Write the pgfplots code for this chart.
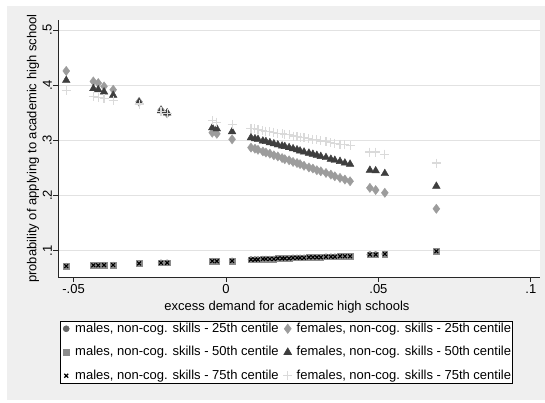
\documentclass[border=0pt]{standalone}
\usepackage{pgfplots}
\usepackage{pgfplotstable}
\pgfplotsset{compat=1.18}
\usepackage{fontspec}
\setmainfont{Liberation Sans}
\definecolor{bggray}{HTML}{EFEFEF}
\definecolor{gridgray}{HTML}{E2E2E2}
\definecolor{cM25}{HTML}{666666}
\definecolor{cM50}{HTML}{8C8C8C}
\definecolor{cF25}{HTML}{9C9C9C}
\definecolor{cF50}{HTML}{3E3E3E}
\definecolor{cF75}{HTML}{DADADA}

\pgfplotstableread{
x       m      d      t      p
-0.0524 0.072  0.426  0.409  0.390
-0.0435 0.0735 0.407  0.394  0.379
-0.0419 0.0735 0.404  0.392  0.378
-0.0400 0.074  0.398  0.388  0.376
-0.0370 0.074  0.392  0.382  0.373
-0.0285 0.077  0.370  0.369  0.366
-0.0213 0.078  0.355  0.354  0.352
-0.0193 0.078  0.349  0.350  0.349
-0.0045 0.081  0.314  0.323  0.336
-0.0030 0.081  0.312  0.321  0.333
0.0020  0.0815 0.302  0.316  0.329
0.0082  0.084  0.287  0.305  0.322
0.0095  0.084  0.285  0.303  0.321
0.0105  0.084  0.283  0.302  0.320
0.0121  0.085  0.280  0.299  0.318
0.0131  0.085  0.278  0.298  0.317
0.0144  0.085  0.276  0.296  0.316
0.0157  0.085  0.273  0.294  0.315
0.0170  0.086  0.271  0.292  0.313
0.0184  0.086  0.268  0.290  0.312
0.0193  0.086  0.266  0.289  0.311
0.0207  0.086  0.264  0.287  0.310
0.0220  0.087  0.261  0.285  0.308
0.0233  0.087  0.259  0.283  0.307
0.0243  0.087  0.257  0.281  0.306
0.0256  0.087  0.254  0.279  0.305
0.0272  0.088  0.251  0.277  0.303
0.0285  0.088  0.249  0.275  0.302
0.0298  0.088  0.246  0.273  0.301
0.0311  0.088  0.244  0.271  0.299
0.0328  0.089  0.241  0.269  0.298
0.0344  0.089  0.238  0.266  0.296
0.0357  0.089  0.235  0.264  0.295
0.0374  0.090  0.232  0.262  0.293
0.0390  0.090  0.229  0.259  0.292
0.0407  0.090  0.226  0.257  0.290
0.0472  0.093  0.214  0.246  0.279
0.0491  0.093  0.210  0.245  0.279
0.0521  0.094  0.205  0.240  0.275
0.0690  0.099  0.176  0.217  0.259
}\data

\begin{document}
\begin{tikzpicture}
\fill[white] (0,0) rectangle (545bp,-403bp);
\fill[bggray] (7bp,-6bp) rectangle (545bp,-400bp);
\begin{axis}[
  at={(58bp,-277bp)}, anchor=south west,
  scale only axis, width=482bp, height=257bp,
  xmin=-0.0551, xmax=0.1030, ymin=0.0523, ymax=0.5184,
  axis background/.style={fill=white},
  axis lines=left, axis line style={-, draw=black!85, line width=0.8bp},
  tick align=outside, major tick length=5bp,
  tick style={draw=black!85, line width=0.8bp},
  xtick={-0.05,0,0.05,0.1}, xticklabels={-.05,0,.05,.1},
  ytick={0.1,0.2,0.3,0.4,0.5}, yticklabels={.1,.2,.3,.4,.5},
  ymajorgrids, grid style={draw=gridgray, line width=0.8bp},
  /pgf/number format/assume math mode=true,
  tick label style={font=\fontsize{13bp}{15bp}\selectfont},
  yticklabel style={rotate=90, anchor=south, inner sep=1bp},
  xticklabel style={inner sep=2bp},
  every axis x label/.style={at={(axis description cs:0.475,-0.117)}, anchor=center},
  every axis y label/.style={at={(axis description cs:-0.052,0.5)}, rotate=90, anchor=center},
  label style={font=\fontsize{13bp}{15bp}\selectfont},
  xlabel={excess demand for academic high schools},
  ylabel={probability of applying to academic high school},
  legend columns=2,
  legend cell align=left,
  legend style={at={(axis description cs:0.004,-0.171)}, anchor=north west,
    draw=black, fill=white, line width=0.6bp, inner sep=0bp, row sep=8.5bp,
    font=\fontsize{13bp}{15bp}\selectfont,
    nodes={inner sep=1bp, text height=10bp, text depth=3bp},
    /tikz/every even column/.append style={column sep=2bp}},
  legend image code/.code={\path[draw=none,fill=none] (0bp,0bp) -- (14bp,0bp); \draw[#1] plot coordinates {(6bp,0bp)};},
]
\addplot[only marks, mark=*, mark size=3bp, draw=cM25, fill=cM25]
  table[x=x, y=m] {\data};
\addlegendentry{males, non-cog. skills - 25th centile}
\addplot[only marks, mark=diamond*, mark size=4.6bp, draw=cF25, fill=cF25]
  table[x=x, y=d] {\data};
\addlegendentry{females, non-cog. skills - 25th centile}
\addplot[only marks, mark=square*, mark size=2.8bp, draw=cM50, fill=cM50]
  table[x=x, y=m] {\data};
\addlegendentry{males, non-cog. skills - 50th centile}
\addplot[only marks, mark=triangle*, mark size=4.4bp, draw=cF50, fill=cF50]
  table[x=x, y=t] {\data};
\addlegendentry{females, non-cog. skills - 50th centile}
\addplot[only marks, mark=x, mark size=2.7bp, draw=black, line width=1.1bp]
  table[x=x, y=m] {\data};
\addlegendentry{males, non-cog. skills - 75th centile}
\addplot[only marks, mark=+, mark size=4.5bp, draw=cF75, line width=1.1bp]
  table[x=x, y=p] {\data};
\addlegendentry{females, non-cog. skills - 75th centile}
\end{axis}
\end{tikzpicture}
\end{document}
